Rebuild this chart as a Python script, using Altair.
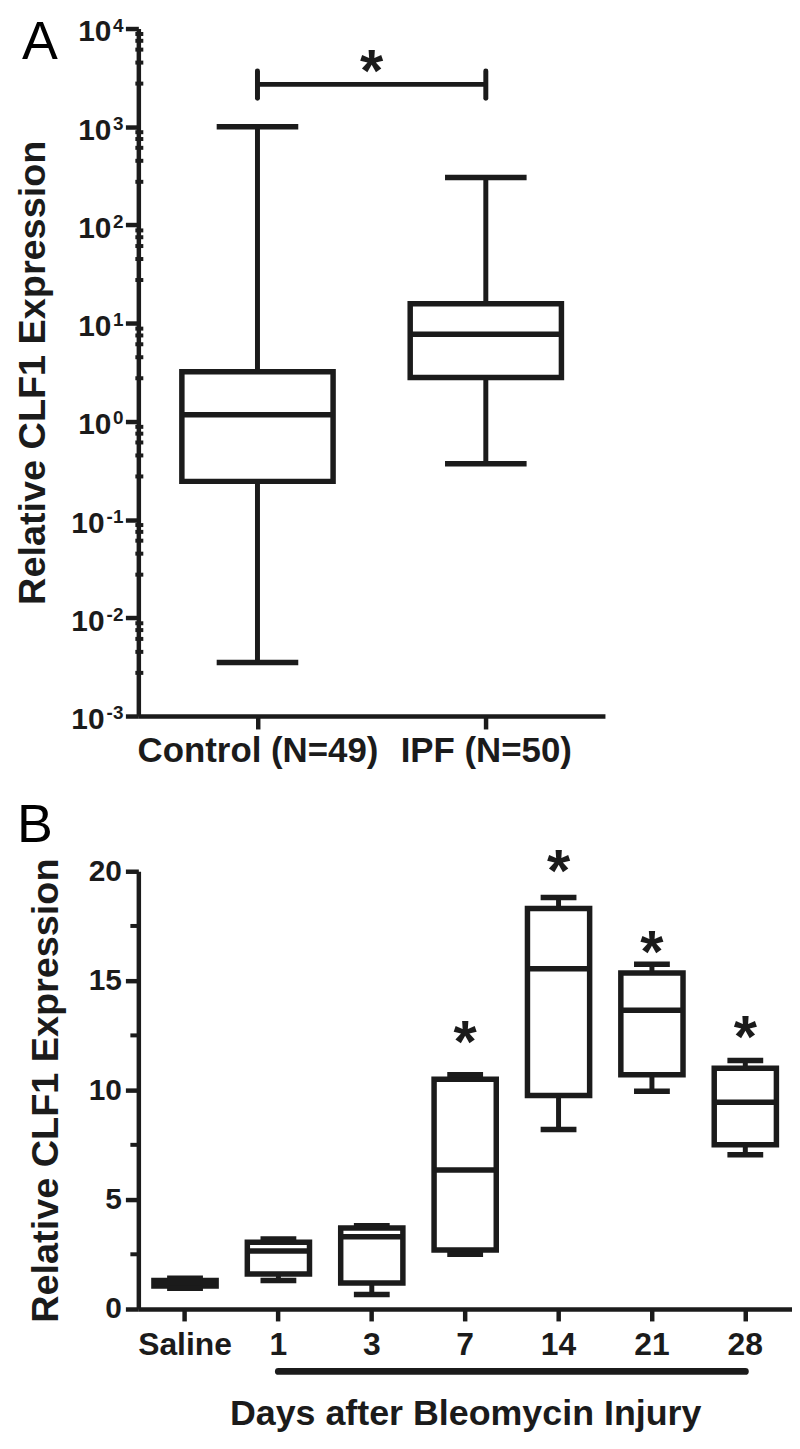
import altair as alt
import pandas as pd

FONT = "Liberation Sans"
INK = "#1b1b1b"

# ---------------- Panel A data (log scale) ----------------
groups_a = ["Control (N=49)", "IPF (N=50)"]
group_pos_a = [1, 2]
whisker_lo_a = [0.0035, 0.37]
q1_a = [0.245, 2.8]
median_a = [1.17, 7.7]
q3_a = [3.2, 15.8]
whisker_hi_a = [1000, 305]

bracket_groups_a = [1, 2]
bracket_level_a = 2700
bracket_ends_a = [1950, 3700]
star_level_a = 5000

ytick_values_a = [1e4, 1e3, 1e2, 1e1, 1, 1e-1, 1e-2, 1e-3]
ytick_base_a = "10"
ytick_exponents_a = ["4", "3", "2", "1", "0", "-1", "-2", "-3"]
minor_multipliers_a = [2.75, 4.5, 6.1, 7.5, 8.8]
decades_a = [-3, -2, -1, 0, 1, 2, 3]

# ---------------- Panel B data ----------------
days_b = ["Saline", "1", "3", "7", "14", "21", "28"]
whisker_lo_b = [0.95, 1.3, 0.66, 2.5, 8.2, 9.95, 7.05]
q1_b = [1.05, 1.6, 1.19, 2.7, 9.75, 10.7, 7.5]
median_b = [1.15, 2.65, 3.3, 6.35, 15.55, 13.65, 9.45]
q3_b = [1.3, 3.05, 3.7, 10.5, 18.3, 15.35, 11.0]
whisker_hi_b = [1.4, 3.2, 3.8, 10.7, 18.8, 15.75, 11.35]
star_days_b = ["7", "14", "21", "28"]
star_level_b = [12.8, 20.6, 16.9, 13.0]
ytick_values_b = [0, 5, 10, 15, 20]
minor_ticks_b = [2.5, 7.5, 12.5, 17.5]
injury_days_b = ["1", "28"]
injury_bar_level_b = -2.85

# ================= Panel A =================
WA, HA = 469, 691
xs_a = alt.Scale(domain=[0.5, 2.5], nice=False, zero=False)
ys_a = alt.Scale(type="log", domain=[1e-3, 1e4], nice=False)

label_expr_a = "''"
for p, g in reversed(list(zip(group_pos_a, groups_a))):
    label_expr_a = f"datum.value == {p} ? '{g}' : ({label_expr_a})"

x_axis_a = alt.Axis(values=group_pos_a, labelExpr=label_expr_a, title=None, grid=False,
                    tickSize=13, tickWidth=4.5, tickColor=INK, domainWidth=4.5, domainColor=INK,
                    labelFont=FONT, labelFontSize=35, labelFontWeight="bold", labelColor=INK,
                    labelPadding=4.5, labelFlush=False, labelOverlap=False, labelLimit=0)
y_axis_a = alt.Axis(values=ytick_values_a, labels=False, grid=False, tickSize=13, tickWidth=4.5,
                    tickColor=INK, domainWidth=4.5, domainColor=INK,
                    title="Relative CLF1 Expression", titleFont=FONT, titleFontSize=38,
                    titleFontWeight="bold", titleColor=INK, titlePadding=71)


def XA(field):
    return alt.X(field, type="quantitative", scale=xs_a, axis=x_axis_a)


def YA(field):
    return alt.Y(field, type="quantitative", scale=ys_a, axis=y_axis_a)


XA_LEFT = alt.XDatum(0.5, type="quantitative", scale=xs_a, axis=x_axis_a)

box_a = pd.DataFrame({"pos": group_pos_a, "lo": whisker_lo_a, "q1": q1_a,
                      "med": median_a, "q3": q3_a, "hi": whisker_hi_a})

whisk_up_a = alt.Chart(box_a).mark_rule(strokeWidth=5, color=INK).encode(
    x=XA("pos"), y=YA("q3"), y2="hi")
whisk_dn_a = alt.Chart(box_a).mark_rule(strokeWidth=5, color=INK).encode(
    x=XA("pos"), y=YA("lo"), y2="q1")
boxes_a = alt.Chart(box_a).mark_bar(size=152, fill="white", stroke=INK, strokeWidth=5.5).encode(
    x=XA("pos"), y=YA("q1"), y2="q3")
med_a = alt.Chart(box_a).mark_tick(orient="horizontal", size=150, thickness=5.5, color=INK, opacity=1).encode(
    x=XA("pos"), y=YA("med"))
cap_hi_a = alt.Chart(box_a).mark_tick(orient="horizontal", size=82, thickness=5.5, color=INK, opacity=1).encode(
    x=XA("pos"), y=YA("hi"))
cap_lo_a = alt.Chart(box_a).mark_tick(orient="horizontal", size=82, thickness=5.5, color=INK, opacity=1).encode(
    x=XA("pos"), y=YA("lo"))

br_h = pd.DataFrame({"x1": [bracket_groups_a[0]], "x2": [bracket_groups_a[1]], "y": [bracket_level_a]})
bracket_h = alt.Chart(br_h).mark_rule(strokeWidth=5, color=INK).encode(
    x=XA("x1"), x2="x2", y=YA("y"))
br_v = pd.DataFrame({"x": bracket_groups_a, "lo": [bracket_ends_a[0]] * 2, "hi": [bracket_ends_a[1]] * 2})
bracket_v = alt.Chart(br_v).mark_rule(strokeWidth=5, color=INK, strokeCap="round").encode(
    x=XA("x"), y=YA("lo"), y2="hi")
star_a_df = pd.DataFrame({"x": [sum(bracket_groups_a) / 2], "y": [star_level_a], "t": ["*"]})
star_a = alt.Chart(star_a_df).mark_text(font=FONT, fontSize=60, fontWeight="bold", color=INK,
                                        baseline="middle", dy=15).encode(
    x=XA("x"), y=YA("y"), text="t:N")

minor_a = pd.DataFrame({"v": [m * 10 ** k for k in decades_a for m in minor_multipliers_a]})
minor_ticks_a = alt.Chart(minor_a).mark_tick(orient="horizontal", size=8, thickness=4, xOffset=-4,
                                              color=INK, opacity=1).encode(x=XA_LEFT, y=YA("v"))

lab_a = pd.DataFrame({"v": ytick_values_a, "base": [ytick_base_a] * len(ytick_values_a),
                      "exp": ytick_exponents_a})
lab_a["neg"] = lab_a["exp"].str.startswith("-")
txt = dict(font=FONT, fontWeight="bold", color=INK, baseline="middle", align="right")
base_pos_a = alt.Chart(lab_a).transform_filter("!datum.neg").mark_text(
    fontSize=30, dx=-32, dy=4, **txt).encode(x=XA_LEFT, y=YA("v"), text="base:N")
base_neg_a = alt.Chart(lab_a).transform_filter("datum.neg").mark_text(
    fontSize=30, dx=-39, dy=4, **txt).encode(x=XA_LEFT, y=YA("v"), text="base:N")
exp_a = alt.Chart(lab_a).mark_text(fontSize=19, dx=-20, dy=-3, **txt).encode(
    x=XA_LEFT, y=YA("v"), text="exp:N")

tag_a = alt.Chart(pd.DataFrame({"t": ["A"]})).mark_text(
    font=FONT, fontSize=54, fontWeight="normal", color="black", align="left", baseline="top",
    dx=-122, dy=-12).encode(x=XA_LEFT, y=alt.YDatum(1e4, type="quantitative", scale=ys_a, axis=y_axis_a),
                            text="t:N")

panel_a = alt.layer(whisk_up_a, whisk_dn_a, boxes_a, med_a, cap_hi_a, cap_lo_a,
                    bracket_h, bracket_v, star_a, minor_ticks_a,
                    base_pos_a, base_neg_a, exp_a, tag_a).properties(width=WA, height=HA)

# ================= Panel B =================
WB, HB = 657, 440
xs_b = alt.Scale(domain=days_b, paddingInner=0, paddingOuter=0)
ys_b = alt.Scale(domain=[0, 20], nice=False, zero=True)
x_axis_b = alt.Axis(labelAngle=0, title="Days after Bleomycin Injury", grid=False,
                    tickSize=12, tickWidth=4.5, tickColor=INK, domainWidth=4.5, domainColor=INK,
                    labelFont=FONT, labelFontSize=32, labelFontWeight="bold", labelColor=INK,
                    labelPadding=9, labelLimit=0, titleFont=FONT, titleFontSize=36,
                    titleFontWeight="bold", titleColor=INK, titlePadding=36)
y_axis_b = alt.Axis(values=ytick_values_b, grid=False, tickSize=13, tickWidth=4.5, tickColor=INK,
                    domainWidth=4.5, domainColor=INK, labelFont=FONT, labelFontSize=30,
                    labelFontWeight="bold", labelColor=INK, labelPadding=4,
                    title="Relative CLF1 Expression", titleFont=FONT, titleFontSize=38,
                    titleFontWeight="bold", titleColor=INK, titlePadding=23)


def XB(field):
    return alt.X(field, type="nominal", sort=days_b, scale=xs_b, axis=x_axis_b)


def YB(field):
    return alt.Y(field, type="quantitative", scale=ys_b, axis=y_axis_b)


XB_LEFT = alt.XDatum(days_b[0], type="nominal", bandPosition=0, scale=xs_b, axis=x_axis_b)
XB_FIRST = alt.XDatum(days_b[0], type="nominal", scale=xs_b, axis=x_axis_b)
HALF_BAND_B = WB / len(days_b) / 2

box_b = pd.DataFrame({"day": days_b, "lo": whisker_lo_b, "q1": q1_b, "med": median_b,
                      "q3": q3_b, "hi": whisker_hi_b})

whisk_up_b = alt.Chart(box_b).mark_rule(strokeWidth=5, color=INK).encode(
    x=XB("day"), y=YB("q3"), y2="hi")
whisk_dn_b = alt.Chart(box_b).mark_rule(strokeWidth=5, color=INK).encode(
    x=XB("day"), y=YB("lo"), y2="q1")
boxes_b = alt.Chart(box_b).mark_bar(size=62.5, fill="white", stroke=INK, strokeWidth=5.5).encode(
    x=XB("day"), y=YB("q1"), y2="q3")
med_b = alt.Chart(box_b).mark_tick(orient="horizontal", size=62, thickness=5.5, color=INK, opacity=1).encode(
    x=XB("day"), y=YB("med"))
cap_hi_b = alt.Chart(box_b).mark_tick(orient="horizontal", size=36, thickness=5.5, color=INK, opacity=1).encode(
    x=XB("day"), y=YB("hi"))
cap_lo_b = alt.Chart(box_b).mark_tick(orient="horizontal", size=36, thickness=5.5, color=INK, opacity=1).encode(
    x=XB("day"), y=YB("lo"))

star_b_df = pd.DataFrame({"day": star_days_b, "y": star_level_b, "t": ["*"] * len(star_days_b)})
stars_b = alt.Chart(star_b_df).mark_text(font=FONT, fontSize=60, fontWeight="bold", color=INK,
                                         baseline="middle", dy=15).encode(
    x=XB("day"), y=YB("y"), text="t:N")

# minor ticks: short ticks just outside the y axis line (axis decoration)
minor_b = pd.DataFrame({"v": minor_ticks_b})
minor_ticks_bc = alt.Chart(minor_b).mark_tick(orient="horizontal", size=8, thickness=4,
                                               xOffset=-HALF_BAND_B - 4, color=INK, opacity=1).encode(
    x=XB_FIRST, y=YB("v"))

inj_df = pd.DataFrame({"a": [injury_days_b[0]], "b": [injury_days_b[1]], "y": [injury_bar_level_b]})
injury_bar = alt.Chart(inj_df).mark_rule(strokeWidth=7, color=INK, strokeCap="round").encode(
    x=XB("a"), x2="b", y=YB("y"))

tag_b = alt.Chart(pd.DataFrame({"t": ["B"]})).mark_text(
    font=FONT, fontSize=54, fontWeight="normal", color="black", align="left", baseline="top",
    dx=-122, dy=-72).encode(x=XB_LEFT, y=alt.YDatum(20, type="quantitative", scale=ys_b, axis=y_axis_b),
                            text="t:N")

panel_b = alt.layer(whisk_up_b, whisk_dn_b, boxes_b, med_b, cap_hi_b, cap_lo_b, stars_b,
                    minor_ticks_bc, injury_bar, tag_b).properties(width=WB, height=HB)

chart = alt.vconcat(panel_a, panel_b, spacing=156, bounds="flush").properties(
    padding={"left": 6, "top": 5, "right": 0, "bottom": 0}, background="white").configure_view(stroke=None)

chart.save("out.html", embed_options={"renderer": "svg", "actions": False})
